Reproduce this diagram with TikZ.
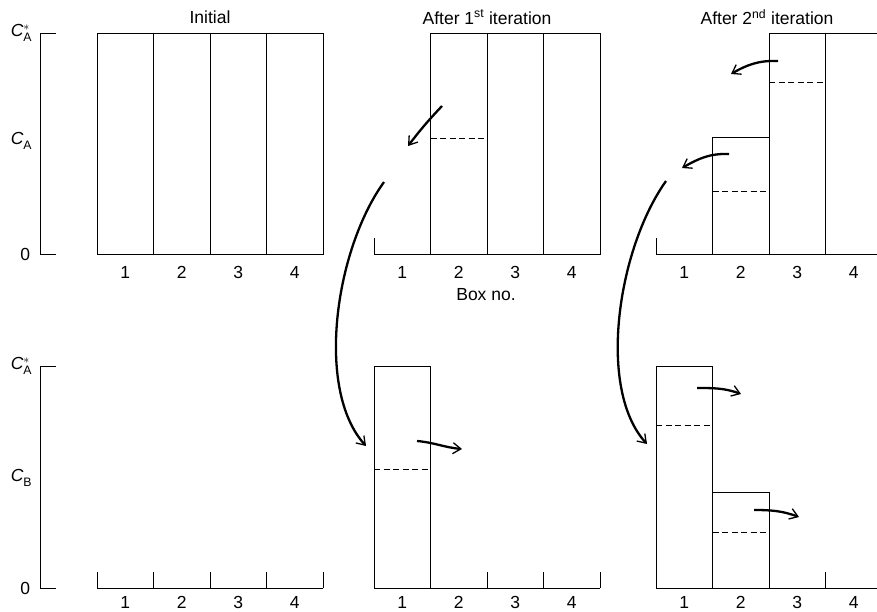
\documentclass[tikz,border=0pt]{standalone}
\usepackage{fontspec}
\setmainfont{Liberation Sans}
\usetikzlibrary{arrows.meta}

\newcommand{\conc}[2]{\textit{C}$^{#1}_{\mathrm{#2}}$}

\begin{document}
\begin{tikzpicture}[x=1pt,y=-1pt,line width=1pt,
  lbl/.style={font=\fontsize{17.5}{17.5}\selectfont},
  level/.style={dash pattern=on 6pt off 3.5pt},
  flow/.style={line width=2.3pt,-{Straight Barb[length=8pt,width=11pt,line width=1.3pt]}}]
  \useasboundingbox (0,0) rectangle (877,611);

  % axes
  \draw (56,33) -- (40,33) -- (40,254) -- (56,254);
  \draw (56,366) -- (40,366) -- (40,588) -- (56,588);
  \node[lbl, anchor=east] (ytop1) at (36,33) {\conc{*}{A}};
  \node[lbl, anchor=east] (ymid1) at (36,141) {\conc{}{A}};
  \node[lbl, anchor=east] (yzero1) at (34,254) {0};
  \node[lbl, anchor=east] (ytop2) at (36,366) {\conc{*}{A}};
  \node[lbl, anchor=east] (ymid2) at (36,478) {\conc{}{B}};
  \node[lbl, anchor=east] (yzero2) at (34,588) {0};

  % titles
  \node[lbl] (tinit) at (210,17) {Initial};
  \node[lbl] (tfirst) at (487,17) {After 1\textsuperscript{st} iteration};
  \node[lbl] (tsecond) at (767,17) {After 2\textsuperscript{nd} iteration};
  \node[lbl] (boxno) at (486,295) {Box no.};

  % box numbers
  \foreach \px/\pn in {97/a, 374/b, 656/c}
    \foreach \i in {1,...,4} {
      \node[lbl] (top-\pn\i) at ({\px+(\i-0.5)*56.5},272) {\i};
      \node[lbl] (bot-\pn\i) at ({\px+(\i-0.5)*56.5},602) {\i};
    }

  % initial
  \foreach \i in {0,...,3}
    \draw ({97+\i*56.5},254) rectangle ++(56.5,-221);
  \draw (97,588) -- (323,588);
  \foreach \i in {0,...,4}
    \draw ({97+\i*56.5},572) -- ({97+\i*56.5},588);

  % after 1st iteration
  \draw (374,238) -- (374,254) -- (430.5,254);
  \foreach \i in {1,...,3}
    \draw ({374+\i*56.5},254) rectangle ++(56.5,-221);
  \draw[level] (430.5,138) -- (487,138);
  \draw (374,588) rectangle (430.5,366);
  \draw[level] (374,469) -- (430.5,469);
  \draw (430.5,588) -- (600,588);
  \foreach \i in {2,...,4}
    \draw ({374+\i*56.5},572) -- ({374+\i*56.5},588);

  % after 2nd iteration
  \draw (656,238) -- (656,254) -- (712.5,254);
  \draw (712.5,254) rectangle (769,137);
  \draw[level] (712.5,191) -- (769,191);
  \draw (769,254) rectangle (825.5,33);
  \draw[level] (769,82) -- (825.5,82);
  \draw (825.5,254) rectangle (882,33);
  \draw (656,588) rectangle (712.5,366);
  \draw[level] (656,425) -- (712.5,425);
  \draw (712.5,588) rectangle (769,492);
  \draw[level] (712.5,532) -- (769,532);
  \draw (769,588) -- (882,588);
  \draw (825.5,572) -- (825.5,588);

  % transfer arrows
  \coordinate (f1s) at (442,106);
  \coordinate (f1e) at (408,146);
  \coordinate (g1s) at (384,182);
  \coordinate (g1e) at (366,446);
  \coordinate (h1s) at (417,441);
  \coordinate (h1e) at (462,449);
  \coordinate (f2s) at (778,61);
  \coordinate (f2e) at (731,74);
  \coordinate (f3s) at (729,154);
  \coordinate (f3e) at (682,168);
  \coordinate (g2s) at (666,181);
  \coordinate (g2e) at (647,444);
  \coordinate (h2s) at (697,388);
  \coordinate (h2e) at (741,394);
  \coordinate (h3s) at (754,510);
  \coordinate (h3e) at (799,517);

  \draw[flow] (f1s) to[bend right=3] (f1e);
  \draw[flow] (f2s) to[out=178,in=30] (f2e);
  \draw[flow] (f3s) to[out=178,in=30] (f3e);
  \draw[flow] (g1s) .. controls (335,250) and (315,390) .. (g1e);
  \draw[flow] (g2s) .. controls (617,250) and (597,390) .. (g2e);
  \draw[flow] (h1s) to[out=-5,in=175] (h1e);
  \draw[flow] (h2s) to[out=0,in=160] (h2e);
  \draw[flow] (h3s) to[out=0,in=160] (h3e);
\end{tikzpicture}
\end{document}
